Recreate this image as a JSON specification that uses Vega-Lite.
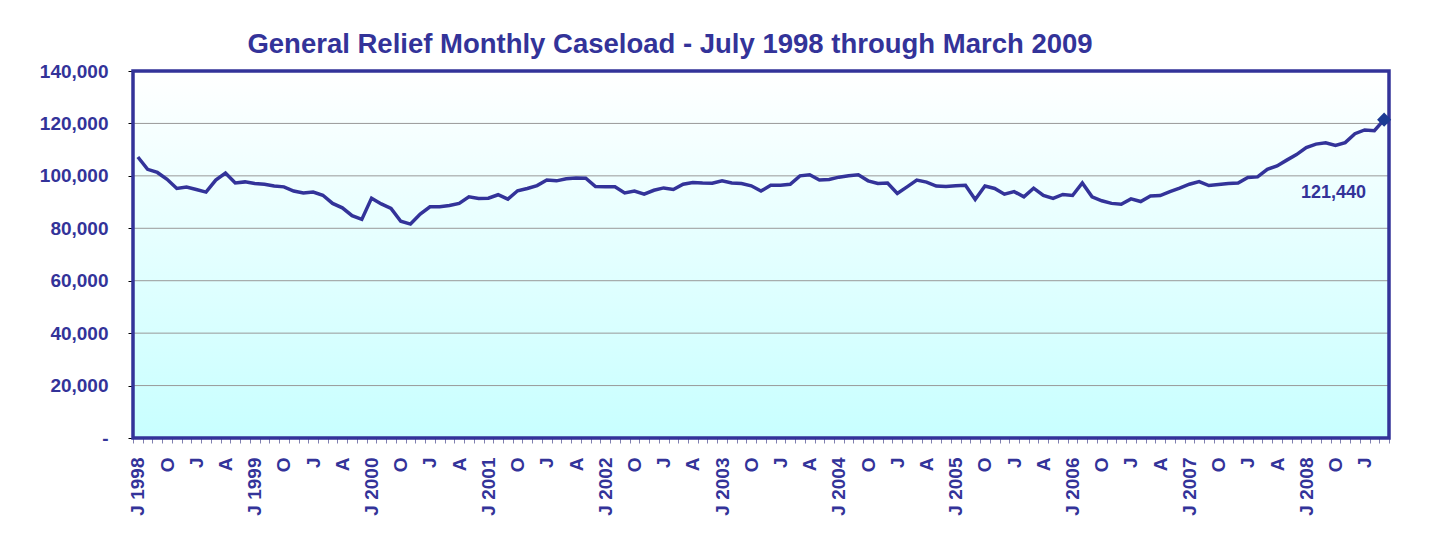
{
  "$schema": "https://vega.github.io/schema/vega-lite/v6.json",
  "width": 1256,
  "height": 367,
  "autosize": "none",
  "padding": {"left": 133, "top": 71, "right": 41, "bottom": 101},
  "background": "#ffffff",
  "title": {
    "text": "General Relief Monthly Caseload - July 1998 through March 2009",
    "font": "Liberation Sans",
    "fontSize": 27.5,
    "fontWeight": "bold",
    "color": "#333399",
    "anchor": "middle",
    "dx": -91,
    "dy": 34,
    "offset": 16,
    "baseline": "alphabetic"
  },
  "config": {
    "view": {"stroke": null},
    "font": "Liberation Sans"
  },
  "data": {
    "values": [
      {"month": "1998-07", "cases": 107200}, {"month": "1998-08", "cases": 102500}, {"month": "1998-09", "cases": 101300},
      {"month": "1998-10", "cases": 98700}, {"month": "1998-11", "cases": 95200}, {"month": "1998-12", "cases": 95700},
      {"month": "1999-01", "cases": 94800}, {"month": "1999-02", "cases": 93800}, {"month": "1999-03", "cases": 98400},
      {"month": "1999-04", "cases": 101100}, {"month": "1999-05", "cases": 97300}, {"month": "1999-06", "cases": 97700},
      {"month": "1999-07", "cases": 97100}, {"month": "1999-08", "cases": 96800}, {"month": "1999-09", "cases": 96100},
      {"month": "1999-10", "cases": 95800}, {"month": "1999-11", "cases": 94200}, {"month": "1999-12", "cases": 93500},
      {"month": "2000-01", "cases": 93800}, {"month": "2000-02", "cases": 92600}, {"month": "2000-03", "cases": 89500},
      {"month": "2000-04", "cases": 87800}, {"month": "2000-05", "cases": 84800}, {"month": "2000-06", "cases": 83400},
      {"month": "2000-07", "cases": 91500}, {"month": "2000-08", "cases": 89300}, {"month": "2000-09", "cases": 87600},
      {"month": "2000-10", "cases": 82700}, {"month": "2000-11", "cases": 81600}, {"month": "2000-12", "cases": 85400},
      {"month": "2001-01", "cases": 88200}, {"month": "2001-02", "cases": 88200}, {"month": "2001-03", "cases": 88700},
      {"month": "2001-04", "cases": 89500}, {"month": "2001-05", "cases": 92000}, {"month": "2001-06", "cases": 91400},
      {"month": "2001-07", "cases": 91500}, {"month": "2001-08", "cases": 92800}, {"month": "2001-09", "cases": 91100},
      {"month": "2001-10", "cases": 94300}, {"month": "2001-11", "cases": 95200}, {"month": "2001-12", "cases": 96300},
      {"month": "2002-01", "cases": 98400}, {"month": "2002-02", "cases": 98100}, {"month": "2002-03", "cases": 98900},
      {"month": "2002-04", "cases": 99200}, {"month": "2002-05", "cases": 99100}, {"month": "2002-06", "cases": 95900},
      {"month": "2002-07", "cases": 95800}, {"month": "2002-08", "cases": 95800}, {"month": "2002-09", "cases": 93500},
      {"month": "2002-10", "cases": 94200}, {"month": "2002-11", "cases": 93000}, {"month": "2002-12", "cases": 94500},
      {"month": "2003-01", "cases": 95400}, {"month": "2003-02", "cases": 94800}, {"month": "2003-03", "cases": 96800},
      {"month": "2003-04", "cases": 97500}, {"month": "2003-05", "cases": 97300}, {"month": "2003-06", "cases": 97200},
      {"month": "2003-07", "cases": 98100}, {"month": "2003-08", "cases": 97300}, {"month": "2003-09", "cases": 97100},
      {"month": "2003-10", "cases": 96200}, {"month": "2003-11", "cases": 94200}, {"month": "2003-12", "cases": 96400},
      {"month": "2004-01", "cases": 96400}, {"month": "2004-02", "cases": 96800}, {"month": "2004-03", "cases": 100000},
      {"month": "2004-04", "cases": 100400}, {"month": "2004-05", "cases": 98400}, {"month": "2004-06", "cases": 98600},
      {"month": "2004-07", "cases": 99500}, {"month": "2004-08", "cases": 100000}, {"month": "2004-09", "cases": 100400},
      {"month": "2004-10", "cases": 98100}, {"month": "2004-11", "cases": 97100}, {"month": "2004-12", "cases": 97300},
      {"month": "2005-01", "cases": 93300}, {"month": "2005-02", "cases": 95800}, {"month": "2005-03", "cases": 98400},
      {"month": "2005-04", "cases": 97600}, {"month": "2005-05", "cases": 96100}, {"month": "2005-06", "cases": 95900},
      {"month": "2005-07", "cases": 96200}, {"month": "2005-08", "cases": 96400}, {"month": "2005-09", "cases": 91000},
      {"month": "2005-10", "cases": 96100}, {"month": "2005-11", "cases": 95200}, {"month": "2005-12", "cases": 93000},
      {"month": "2006-01", "cases": 94000}, {"month": "2006-02", "cases": 92000}, {"month": "2006-03", "cases": 95300},
      {"month": "2006-04", "cases": 92500}, {"month": "2006-05", "cases": 91400}, {"month": "2006-06", "cases": 92900},
      {"month": "2006-07", "cases": 92500}, {"month": "2006-08", "cases": 97300}, {"month": "2006-09", "cases": 92000},
      {"month": "2006-10", "cases": 90500}, {"month": "2006-11", "cases": 89500}, {"month": "2006-12", "cases": 89200},
      {"month": "2007-01", "cases": 91200}, {"month": "2007-02", "cases": 90200}, {"month": "2007-03", "cases": 92300},
      {"month": "2007-04", "cases": 92500}, {"month": "2007-05", "cases": 94000}, {"month": "2007-06", "cases": 95300},
      {"month": "2007-07", "cases": 96800}, {"month": "2007-08", "cases": 97800}, {"month": "2007-09", "cases": 96300},
      {"month": "2007-10", "cases": 96700}, {"month": "2007-11", "cases": 97100}, {"month": "2007-12", "cases": 97300},
      {"month": "2008-01", "cases": 99400}, {"month": "2008-02", "cases": 99600}, {"month": "2008-03", "cases": 102500},
      {"month": "2008-04", "cases": 103800}, {"month": "2008-05", "cases": 106000}, {"month": "2008-06", "cases": 108100},
      {"month": "2008-07", "cases": 110800}, {"month": "2008-08", "cases": 112100}, {"month": "2008-09", "cases": 112600},
      {"month": "2008-10", "cases": 111600}, {"month": "2008-11", "cases": 112700}, {"month": "2008-12", "cases": 116100},
      {"month": "2009-01", "cases": 117500}, {"month": "2009-02", "cases": 117200}, {"month": "2009-03", "cases": 121440}
    ]
  },
  "layer": [
    {
      "data": {"values": [{}]},
      "mark": {
        "type": "rect",
        "fill": {
          "gradient": "linear",
          "x1": 0, "y1": 0, "x2": 0, "y2": 1,
          "stops": [
            {"offset": 0, "color": "#ffffff"},
            {"offset": 1, "color": "#c8ffff"}
          ]
        }
      },
      "encoding": {}
    },
    {
      "data": {"values": [{"g": 20000}, {"g": 40000}, {"g": 60000}, {"g": 80000}, {"g": 100000}, {"g": 120000}]},
      "mark": {"type": "rule", "color": "#999999", "strokeWidth": 1},
      "encoding": {
        "y": {"field": "g", "type": "quantitative"}
      }
    },
    {
      "data": {"values": [{}]},
      "mark": {"type": "rect", "fillOpacity": 0, "fill": "#ffffff", "stroke": "#333399", "strokeWidth": 3.5},
      "encoding": {}
    },
    {
      "mark": {"type": "line", "color": "#333399", "strokeWidth": 3.5},
      "encoding": {
        "x": {
          "field": "month",
          "type": "ordinal",
          "scale": {"type": "band", "paddingInner": 0, "paddingOuter": 0},
          "axis": {
            "title": null,
            "labelExpr": "substring(datum.value,5,7)=='07' ? 'J ' + substring(datum.value,0,4) : substring(datum.value,5,7)=='10' ? 'O' : substring(datum.value,5,7)=='01' ? 'J' : substring(datum.value,5,7)=='04' ? 'A' : ''",
            "labelAngle": 270,
            "labelFont": "Liberation Sans",
            "labelFontWeight": "bold",
            "labelFontSize": 19,
            "labelColor": "#333399",
            "labelPadding": 14,
            "labelOverlap": false,
            "tickBand": "extent",
            "tickColor": "#8080b0",
            "tickSize": 5,
            "domain": false,
            "grid": false
          }
        },
        "y": {
          "field": "cases",
          "type": "quantitative",
          "scale": {"domain": [0, 140000], "nice": false},
          "axis": {
            "title": null,
            "values": [0, 20000, 40000, 60000, 80000, 100000, 120000, 140000],
            "labelExpr": "datum.value == 0 ? '-' : format(datum.value, ',')",
            "labelFont": "Liberation Sans",
            "labelFontWeight": "bold",
            "labelFontSize": 19,
            "labelColor": "#333399",
            "labelPadding": 20,
            "tickColor": "#000000",
            "tickSize": 5,
            "domain": false,
            "grid": false
          }
        }
      }
    },
    {
      "transform": [{"filter": "datum.month == '2009-03'"}],
      "mark": {"type": "point", "shape": "diamond", "filled": true, "size": 200, "color": "#1c3a94", "opacity": 1},
      "encoding": {
        "x": {"field": "month", "type": "ordinal"},
        "y": {"field": "cases", "type": "quantitative"}
      }
    },
    {
      "transform": [{"filter": "datum.month == '2009-03'"}],
      "mark": {"type": "text", "align": "right", "baseline": "middle", "dx": -18, "dy": 73, "font": "Liberation Sans", "fontWeight": "bold", "fontSize": 18, "color": "#333399"},
      "encoding": {
        "x": {"field": "month", "type": "ordinal"},
        "y": {"field": "cases", "type": "quantitative"},
        "text": {"field": "cases", "type": "quantitative", "format": ","}
      }
    }
  ]
}
